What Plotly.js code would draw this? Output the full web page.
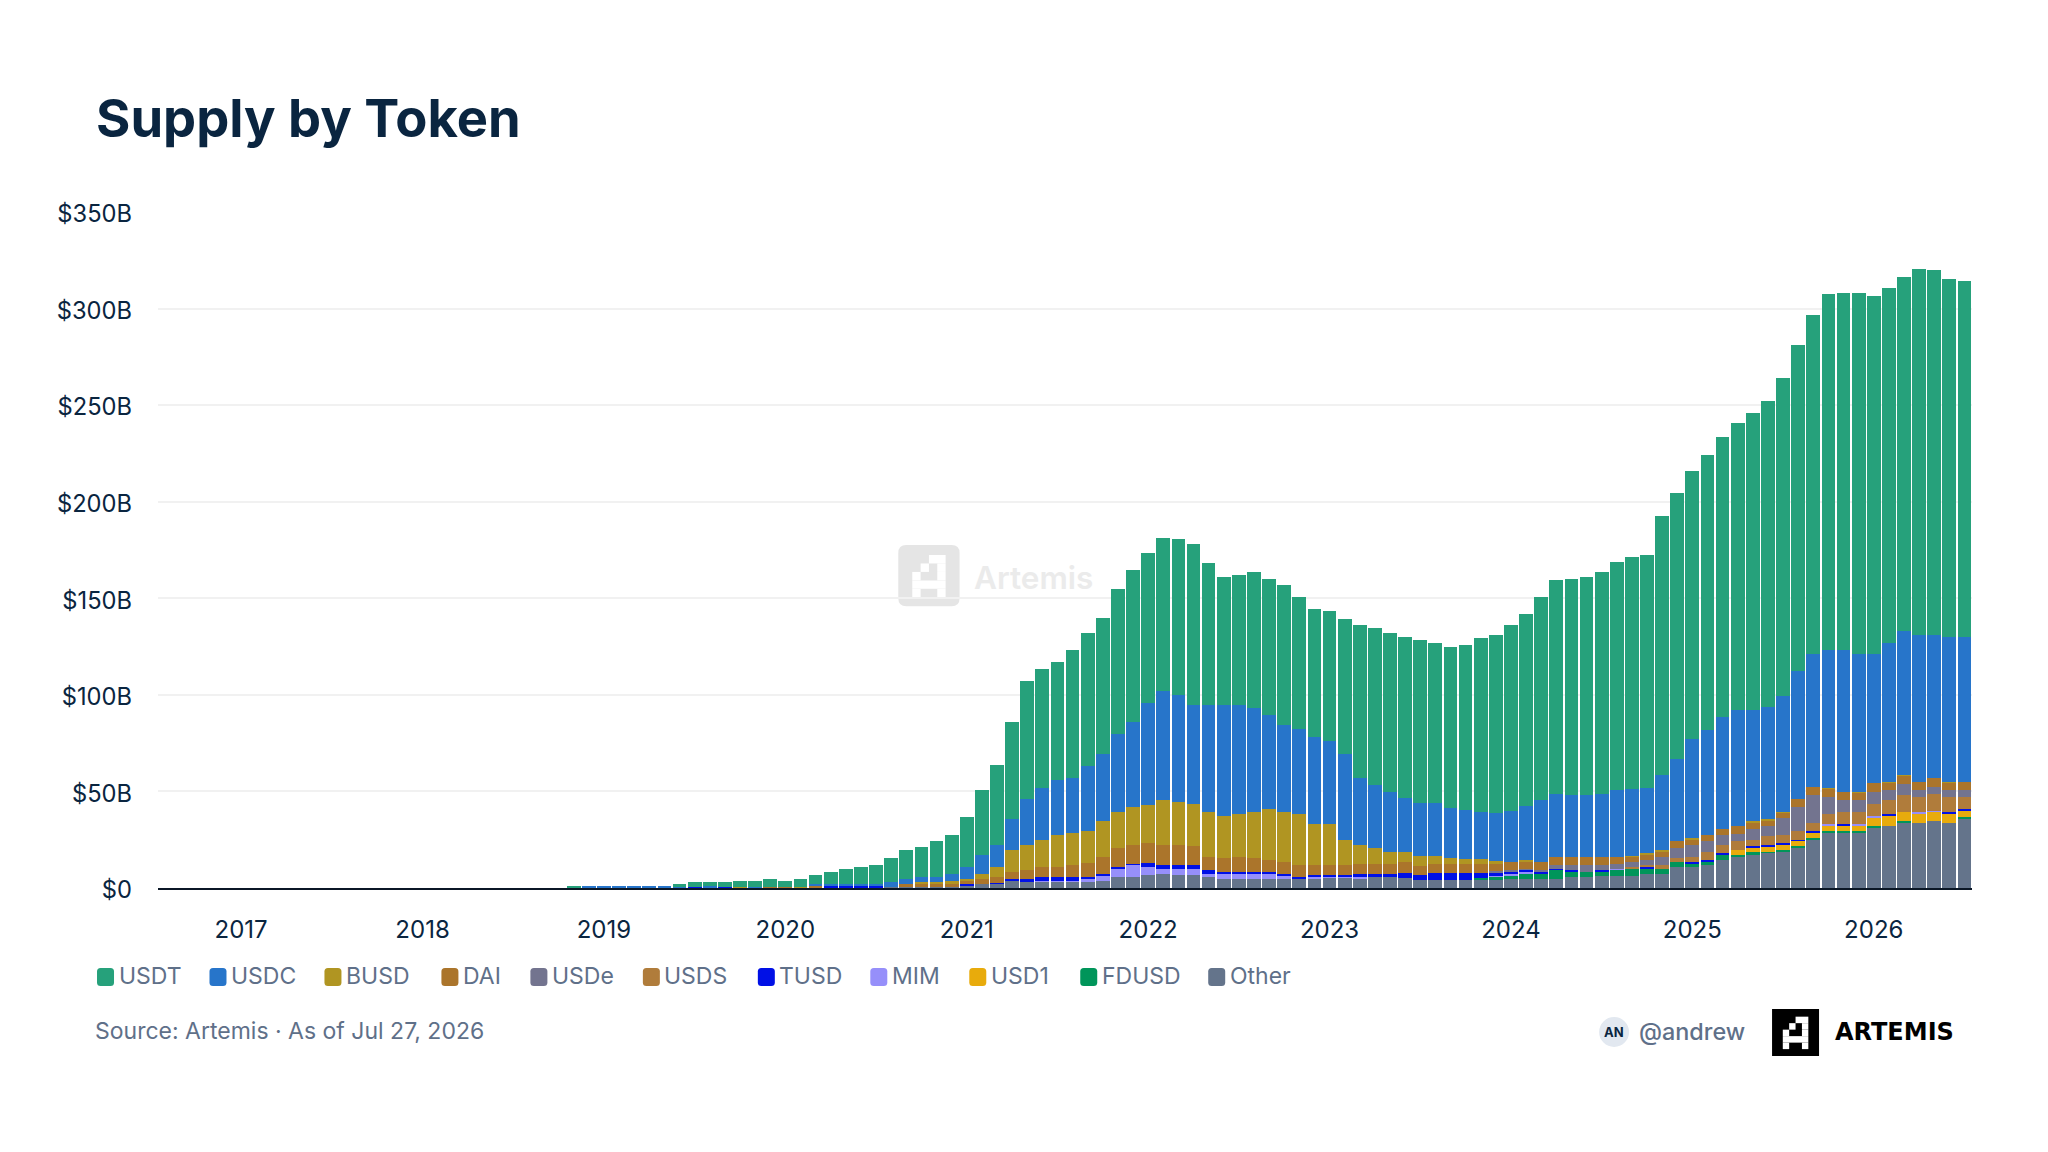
<!DOCTYPE html>
<html>
<head>
<meta charset="utf-8">
<script src="https://cdn.plot.ly/plotly-3.0.1.min.js"></script>
<style>
  html, body { margin: 0; padding: 0; background: #fff; }
  #chart { width: 2048px; height: 1152px; }
</style>
</head>
<body>
<div id="chart"></div>
<script>
// months, Aug 2016 to Jul 2026, one row per calendar year
const months = [
  '2016-08','2016-09','2016-10','2016-11','2016-12',
  '2017-01','2017-02','2017-03','2017-04','2017-05','2017-06','2017-07','2017-08','2017-09','2017-10','2017-11','2017-12',
  '2018-01','2018-02','2018-03','2018-04','2018-05','2018-06','2018-07','2018-08','2018-09','2018-10','2018-11','2018-12',
  '2019-01','2019-02','2019-03','2019-04','2019-05','2019-06','2019-07','2019-08','2019-09','2019-10','2019-11','2019-12',
  '2020-01','2020-02','2020-03','2020-04','2020-05','2020-06','2020-07','2020-08','2020-09','2020-10','2020-11','2020-12',
  '2021-01','2021-02','2021-03','2021-04','2021-05','2021-06','2021-07','2021-08','2021-09','2021-10','2021-11','2021-12',
  '2022-01','2022-02','2022-03','2022-04','2022-05','2022-06','2022-07','2022-08','2022-09','2022-10','2022-11','2022-12',
  '2023-01','2023-02','2023-03','2023-04','2023-05','2023-06','2023-07','2023-08','2023-09','2023-10','2023-11','2023-12',
  '2024-01','2024-02','2024-03','2024-04','2024-05','2024-06','2024-07','2024-08','2024-09','2024-10','2024-11','2024-12',
  '2025-01','2025-02','2025-03','2025-04','2025-05','2025-06','2025-07','2025-08','2025-09','2025-10','2025-11','2025-12',
  '2026-01','2026-02','2026-03','2026-04','2026-05','2026-06','2026-07'
];

const yearTicks = ['2017-01','2018-01','2019-01','2020-01','2021-01','2022-01','2023-01','2024-01','2025-01','2026-01'];
const yearLabels = ['2017','2018','2019','2020','2021','2022','2023','2024','2025','2026'];
const valueTicks = [0, 50, 100, 150, 200, 250, 300, 350];
const valueLabels = ['$0','$50B','$100B','$150B','$200B','$250B','$300B','$350B'];

// supply in $B, same rows as months
const usdt = [
  0,0,0,0,0,
  0,0,0,0,0,0,0,0,0,0,0,0,
  0,0,0,0,0,0,0,0,0,0,1,.2,
  .2,.2,.2,.2,.2,1.5,2.4,2.3,2.4,3.3,3.3,4,
  3.1,3.9,4.7,6.2,7.7,8.8,9.8,12.2,15,15.7,18.4,20.2,
  25.7,33.7,41.4,50.1,61,61.7,61,66.2,68.7,70.3,75,78.7,
  77.5,79.3,81,83.3,73.5,66.2,67.2,70.3,70.5,72.2,68.3,66.2,
  67.2,69.6,79.1,81.3,82.3,83.5,84.3,82.6,83.2,85.4,90,92,
  96.2,99.1,105,110.5,112.1,112.8,114.6,118.3,120.1,120.6,134.4,137.7,
  138.6,142.8,144.9,148.3,153.5,158.1,164.8,168.7,175.7,184.1,185,187.1,
  185.5,183.7,183.5,189.8,188.8,185.5,184.5
];
const usdc = [
  0,0,0,0,0,
  0,0,0,0,0,0,0,0,0,0,0,0,
  0,0,0,0,0,0,0,0,0,0,0,.8,
  .8,.8,.8,.8,.8,.5,0,.8,0,0,.5,0,
  0,0,1,1.1,1.1,1.1,1.1,2.6,2.7,2.6,2.6,3.6,
  6.2,9.8,11.5,16,23.8,26.7,28.4,28.5,33.6,34.7,40.3,43.9,
  53.1,56.4,55,51.2,55.3,57.4,56.4,53.8,48.7,45,44,45,
  42.9,44.5,34.7,32.5,31,28.3,27.4,27.4,25.9,25.3,24.3,24.9,
  26.3,28.1,32.1,32.9,32.2,32.2,32.9,34.8,34.7,33.7,38.8,42.5,
  51.2,53.9,58.1,60.2,57.7,58.3,59.8,66.2,69,71.6,73.6,71.5,
  66.9,72.4,74.5,76.1,74,75.2,75.2
];
const busd = [
  0,0,0,0,0,
  0,0,0,0,0,0,0,0,0,0,0,0,
  0,0,0,0,0,0,0,0,0,0,0,0,
  0,0,0,0,0,0,0,0,0,.5,0,0,
  0,.7,0,0,0,0,0,0,0,1.1,1.1,1.5,
  1.3,2.5,5.2,11.4,12.9,14,16.6,16.6,16.8,18.6,18.6,19.7,
  19.4,23.3,22.3,22,23.3,22.1,22.2,24.2,26.3,25.9,26.3,21.2,
  21.2,12.9,9.8,8.3,6.2,5.1,5.1,4.3,3.3,2.8,2.8,1.7,
  .2,.9,0,0,0,0,0,0,1,.9,1,0,
  1,.5,0,0,.9,.9,.9,0,0,.5,0,.5,
  0,.5,.5,0,0,.5,0
];
const dai = [
  0,0,0,0,0,
  0,0,0,0,0,0,0,0,0,0,0,0,
  0,0,0,0,0,0,0,0,0,0,0,0,
  0,0,0,0,0,0,0,0,0,0,0,.6,
  .7,0,1,0,0,0,0,0,1.5,1.4,1.4,1.5,
  1.3,2.6,3,3.6,4.7,5.1,5.1,6.1,7,8.8,9.9,9.8,
  10.5,10.3,10.3,9.5,6.7,6.9,7.8,6.9,6.3,6.2,6.2,5.2,
  5.2,5.2,5.2,5.2,5.2,5.4,4.7,4.5,4.5,4.5,4.5,3.4,
  4,4,4.1,4.2,4.2,4.2,4.2,3.5,2.4,2.4,2.8,3.4,
  2.6,3.1,2.9,3.8,3.3,2.6,2.4,4.1,4.1,4.1,4.1,3.6,
  4.7,3.6,3.8,4.1,4.7,3.6,4.1
];
const usde = [
  0,0,0,0,0,
  0,0,0,0,0,0,0,0,0,0,0,0,
  0,0,0,0,0,0,0,0,0,0,0,0,
  0,0,0,0,0,0,0,0,0,0,0,0,
  0,0,0,0,0,0,0,0,0,0,0,0,
  0,0,0,0,0,0,0,0,0,0,0,0,
  0,0,0,0,0,0,0,0,0,0,0,0,
  0,0,0,0,0,0,0,0,0,0,0,1,
  1,.3,1,1.9,2.4,3.4,2.4,2.8,2.6,2.9,4.1,5.2,
  6.4,5.5,5.2,4.1,5.5,5.2,9,12.4,14.5,8.8,6.2,6.2,
  6.2,5.2,6,3.6,3.6,3.6,3.6
];
const usds = [
  0,0,0,0,0,
  0,0,0,0,0,0,0,0,0,0,0,0,
  0,0,0,0,0,0,0,0,0,0,0,0,
  0,0,0,0,0,0,0,0,0,0,0,0,
  0,0,0,0,0,0,0,0,0,0,0,0,
  0,0,0,0,0,0,0,0,0,0,0,0,
  0,0,0,0,0,0,0,0,0,0,0,0,
  0,0,0,0,0,0,0,0,0,0,0,0,
  0,0,0,0,0,0,0,0,1,.9,1.9,2.1,
  2.4,4.1,4.1,4.5,3.1,4.7,4.1,4.7,4.1,5.2,6.2,6.2,
  6,7.2,8.8,7.8,8.8,7.8,6.2
];
const tusd = [
  0,0,0,0,0,
  0,0,0,0,0,0,0,0,0,0,0,0,
  0,0,0,0,0,0,0,0,0,0,0,0,
  0,0,0,0,0,0,.7,0,.7,0,0,0,
  0,0,0,1,1,1,1,0,0,0,0,0,
  1.1,0,.7,1,1.5,2.1,2.1,2.1,1.1,1,1,.5,
  1.9,2.1,2.1,2.1,2.1,1,1,1,1,1,1.1,1,
  1,1,1.5,1.5,1.5,2.6,2.6,3.6,3.6,3.6,2.6,1.6,
  1,1,1,.7,1,0,1,0,0,1,0,0,
  .9,1,1,0,1,1,1,.7,1,0,1,0,
  0,1,0,0,0,1,1
];
const mim = [
  0,0,0,0,0,
  0,0,0,0,0,0,0,0,0,0,0,0,
  0,0,0,0,0,0,0,0,0,0,0,0,
  0,0,0,0,0,0,0,0,0,0,0,0,
  0,0,0,0,0,0,0,0,0,0,0,0,
  0,0,0,0,0,.5,.5,.5,1.5,2.6,4.1,6.2,
  4.4,2.6,3.1,3.4,1.5,2.6,2.6,2.6,2.6,1.6,0,1.1,
  .6,.6,1.1,.2,.2,0,0,0,0,0,0,.5,
  1,1,0,0,0,0,0,.5,0,0,0,0,
  0,0,0,0,0,0,0,0,0,1,0,1,
  1,0,0,1,.5,0,0
];
const usd1 = [
  0,0,0,0,0,
  0,0,0,0,0,0,0,0,0,0,0,0,
  0,0,0,0,0,0,0,0,0,0,0,0,
  0,0,0,0,0,0,0,0,0,0,0,0,
  0,0,0,0,0,0,0,0,0,0,0,0,
  0,0,0,0,0,0,0,0,0,0,0,0,
  0,0,0,0,0,0,0,0,0,0,0,0,
  0,0,0,0,0,0,0,0,0,0,0,0,
  0,0,0,0,0,0,0,0,0,0,0,0,
  0,0,0,2.6,2.1,2.6,2.6,2.4,2.6,2.6,2.6,2.6,
  4.3,5.2,4.7,4.7,4.7,4.7,3.1
];
const fdusd = [
  0,0,0,0,0,
  0,0,0,0,0,0,0,0,0,0,0,0,
  0,0,0,0,0,0,0,0,0,0,0,0,
  0,0,0,0,0,0,0,0,0,0,0,0,
  0,0,0,0,0,0,0,0,0,0,0,0,
  0,0,0,0,0,0,0,0,0,0,0,0,
  0,0,0,0,0,0,0,0,0,0,0,0,
  0,0,0,0,0,0,0,0,0,0,1,1.6,
  1.6,2.6,2.6,4.5,2.6,2.6,2.1,2.9,3.6,2.6,2.6,2.6,
  1.7,1.6,2.6,1,1.6,.5,1,.9,1,1,1,1,
  1,0,1,0,0,0,1
];
const other = [
  0,0,0,0,0,
  0,0,0,0,0,0,0,0,0,0,0,0,
  0,0,0,0,0,0,0,0,0,0,0,0,
  0,0,0,0,0,0,0,0,0,0,0,0,
  0,0,0,0,0,0,0,.5,.5,.6,.6,.6,
  1,2.1,2,3.8,3.3,3.3,3.3,3.3,3.3,3.8,5.9,5.9,
  6.6,7.4,6.9,6.6,5.9,4.8,4.8,4.8,4.8,4.8,4.8,4.8,
  5.3,5.3,4.8,5.7,5.7,5.3,4.3,4.3,4.3,4.3,4.3,4.3,
  4.7,4.7,4.7,4.7,5.7,5.7,6.2,6.2,6.2,7.2,7.2,10.9,
  10.9,11.9,14.5,16,17.1,18.1,18.6,20.9,24.8,28.4,28.4,28.4,
  31,32,33.6,33.6,34.7,33.6,35.7
];

const tokens = ['USDT','USDC','BUSD','DAI','USDe','USDS','TUSD','MIM','USD1','FDUSD','Other'];
const supply = [usdt, usdc, busd, dai, usde, usds, tusd, mim, usd1, fdusd, other];
const tokenColors = ['#26a17b','#2775ca','#b09522','#ab752b','#73748f','#b07c3b','#0010e6','#968ffa','#e8ab0c','#00955a','#64748b'];
const legendLeft = [96.5, 209, 324, 441, 530, 642.5, 757.5, 870, 969, 1080, 1208];

const NAVY = '#0a2540';
const SLATE = '#5f7089';
const FONT = 'Inter, "Noto Sans", sans-serif';

// plot box in page pixels
const L = 157.5, R = 1972, T = 212, B = 888;
const px = x => (x - L) / (R - L);
const py = y => (B - y) / (B - T);

function box(x0, y0, x1, y1, fill, layer) {
  return {type: 'rect', xref: 'paper', yref: 'paper', x0: px(x0), x1: px(x1), y0: py(y0), y1: py(y1),
    fillcolor: fill, line: {width: 0}, layer: layer || 'above'};
}

function roundBox(x0, y0, x1, y1, r, fill, layer) {
  const path = 'M' + px(x0 + r) + ',' + py(y0) + ' L' + px(x1 - r) + ',' + py(y0) +
    ' Q' + px(x1) + ',' + py(y0) + ' ' + px(x1) + ',' + py(y0 + r) +
    ' L' + px(x1) + ',' + py(y1 - r) + ' Q' + px(x1) + ',' + py(y1) + ' ' + px(x1 - r) + ',' + py(y1) +
    ' L' + px(x0 + r) + ',' + py(y1) + ' Q' + px(x0) + ',' + py(y1) + ' ' + px(x0) + ',' + py(y1 - r) +
    ' L' + px(x0) + ',' + py(y0 + r) + ' Q' + px(x0) + ',' + py(y0) + ' ' + px(x0 + r) + ',' + py(y0) + ' Z';
  return {type: 'path', xref: 'paper', yref: 'paper', path: path, fillcolor: fill, line: {width: 0}, layer: layer || 'above'};
}

// the Artemis mark: [col0, col1, row] runs on a 4x5 grid
const markRuns = [[2,4,0],[1,2,1],[3,4,1],[0,1,2],[3,4,2],[0,4,3],[0,1,4],[3,4,4]];

function mark(x0, y0, size, bg, radius, layer) {
  const cell = size * 25 / 61.3;
  const cw = cell / 3, ch = cell * 1.016 / 3;
  const gx = x0 + size * 42 / 184, gy = y0 + size * 30 / 184;
  const out = [radius ? roundBox(x0, y0, x0 + size, y0 + size, radius, bg, layer) : box(x0, y0, x0 + size, y0 + size, bg, layer)];
  markRuns.forEach(r => {
    out.push(box(gx + r[0] * cw, gy + r[2] * ch, gx + r[1] * cw, gy + (r[2] + 1) * ch, '#ffffff', layer));
  });
  return out;
}

function label(x, y, text, size, color, anchor, weight, family) {
  return {xref: 'paper', yref: 'paper', x: px(x), y: py(y), text: text, showarrow: false,
    xanchor: anchor || 'left', yanchor: 'middle', align: anchor || 'left',
    font: {family: family || FONT, size: size, color: color, weight: weight || 400}};
}

// stacked bottom-up, so Other goes first
const traces = tokens.map((name, i) => ({
  type: 'bar', name: name, x: months, y: supply[i],
  marker: {color: tokenColors[i], line: {width: 0}}
})).reverse();

const shapes = [], annotations = [];

tokens.forEach((name, i) => {
  shapes.push(roundBox(legendLeft[i], 968, legendLeft[i] + 17, 986, 3.5, tokenColors[i]));
  annotations.push(label(legendLeft[i] + 19.5, 976, name, 23, SLATE));
});

annotations.push(label(92, 1031, 'Source: Artemis · As of Jul 27, 2026', 23, SLATE));

// watermark
mark(898, 545, 61.3, '#e5e5e5', 8, 'below').forEach(s => shapes.push(s));
annotations.push(label(972, 577, 'Artemis', 31.5, '#ebebeb', 'left', 600));

// footer badge and logo
shapes.push({type: 'circle', xref: 'paper', yref: 'paper', x0: px(1599), x1: px(1629), y0: py(1017), y1: py(1047),
  fillcolor: '#e2e8f0', line: {width: 0}});
annotations.push(label(1614, 1032, 'AN', 13, NAVY, 'center', 700));
annotations.push(label(1637, 1031, '@andrew', 23.4, SLATE, 'left', 500));
mark(1772, 1009, 47, '#000000').forEach(s => shapes.push(s));
annotations.push(label(1833, 1032, 'ARTEMIS', 24, '#000000', 'left', 700, '"DejaVu Sans"'));

const layout = {
  width: 2048, height: 1152,
  margin: {l: L, r: 2048 - R, t: T, b: 1152 - B, pad: 0},
  paper_bgcolor: '#ffffff', plot_bgcolor: '#ffffff',
  font: {family: FONT, color: NAVY},
  title: {text: 'Supply by Token', x: 96 / 2048, xanchor: 'left', y: 1 - 119 / 1152, yanchor: 'middle',
    font: {family: FONT, size: 52.5, color: NAVY, weight: 700}},
  barmode: 'stack', bargap: 0.09, showlegend: false, hovermode: false,
  xaxis: {
    type: 'category', categoryorder: 'array', categoryarray: months,
    range: [-0.5, 119.5], tickmode: 'array', tickvals: yearTicks, ticktext: yearLabels,
    ticks: '', ticklabelstandoff: 19, tickfont: {family: FONT, size: 24, color: NAVY},
    showgrid: false, showline: true, linecolor: '#0b1726', linewidth: 2, zeroline: false
  },
  yaxis: {
    range: [0, 350], tickmode: 'array', tickvals: valueTicks, ticktext: valueLabels,
    ticks: '', ticklabelstandoff: 25, ticklabelshift: 2, tickfont: {family: FONT, size: 23.7, color: NAVY},
    showgrid: true, gridcolor: '#f1f1f1', gridwidth: 2, zeroline: false, showline: false
  },
  shapes: shapes, annotations: annotations
};

Plotly.newPlot('chart', traces, layout, {displayModeBar: false, staticPlot: true});
</script>
</body>
</html>
